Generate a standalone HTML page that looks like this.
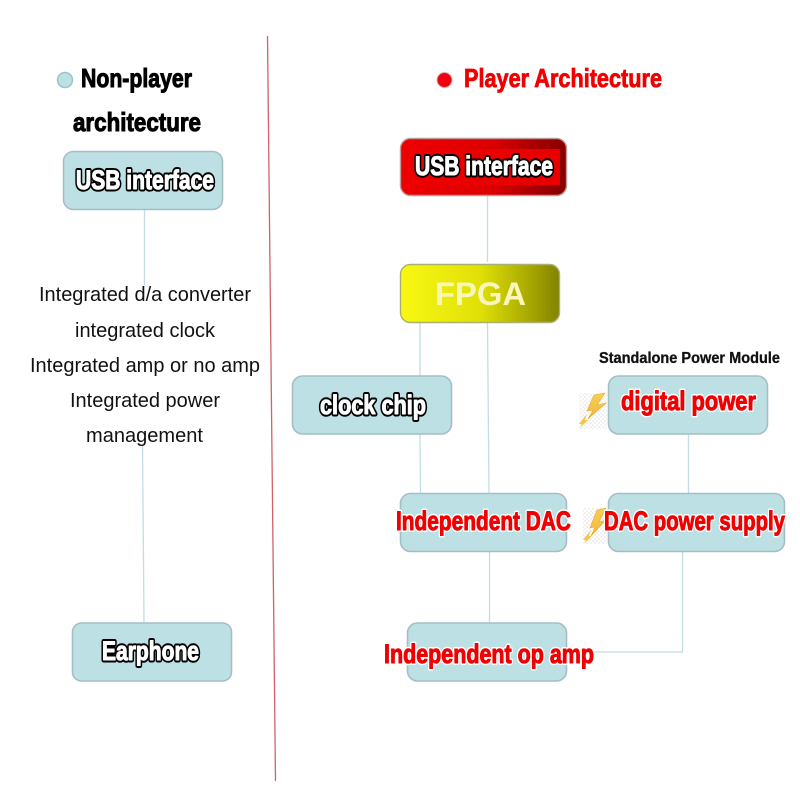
<!DOCTYPE html>
<html>
<head>
<meta charset="utf-8">
<style>
html,body{margin:0;padding:0;background:#fff;width:800px;height:800px;overflow:hidden}
svg{display:block}
text{font-family:"Liberation Sans",sans-serif}
.h{font-weight:bold;font-size:26px}
.wo{font-weight:bold;font-size:27px;fill:#000;stroke:#000;stroke-width:5px;stroke-linejoin:round}
.w{font-weight:bold;font-size:27px;fill:#fff;stroke:#fff;stroke-width:1.1px;stroke-linejoin:round}
.ro{font-weight:bold;font-size:27px;fill:#fff;stroke:#fff;stroke-width:4px;stroke-linejoin:round}
.r{font-weight:bold;font-size:27px;fill:#f00000;stroke:#f00000;stroke-width:1px;stroke-linejoin:round}
.b{font-size:20.5px;fill:#111}
.box{fill:#bde0e5;stroke:#a4bfc3;stroke-width:1.6}
.ln{stroke:#c4dde0;stroke-width:1.3;fill:none}
</style>
</head>
<body>
<svg width="800" height="800" viewBox="0 0 800 800" xmlns="http://www.w3.org/2000/svg">
<defs>
<linearGradient id="red" x1="0" y1="0" x2="1" y2="0">
<stop offset="0" stop-color="#ee0000"/><stop offset=".55" stop-color="#dc0000"/><stop offset=".85" stop-color="#a00000"/><stop offset="1" stop-color="#860000"/>
</linearGradient>
<linearGradient id="redin" x1="0" y1="0" x2="1" y2="0">
<stop offset="0" stop-color="#ec0000"/><stop offset="1" stop-color="#e80000"/>
</linearGradient>
<linearGradient id="yel" x1="0" y1="0" x2="1" y2="0">
<stop offset="0" stop-color="#f8f812"/><stop offset=".5" stop-color="#e0e008"/><stop offset=".8" stop-color="#aaaa00"/><stop offset="1" stop-color="#828200"/>
</linearGradient>
<pattern id="chk" width="4" height="4" patternUnits="userSpaceOnUse">
<rect width="2" height="2" fill="#f1f1f1"/><rect x="2" y="2" width="2" height="2" fill="#f1f1f1"/>
</pattern>
<linearGradient id="bolt" x1="0" y1="0" x2="0" y2="1">
<stop offset="0" stop-color="#f7cf55"/><stop offset="1" stop-color="#f2b83a"/>
</linearGradient>
</defs>

<!-- divider -->
<line x1="267.500" y1="36" x2="275.500" y2="781" stroke="#d0626a" stroke-width="1.300"/>

<!-- connectors -->
<path class="ln" d="M144.500 210V285"/>
<path class="ln" d="M142.500 445L144 623"/>
<path class="ln" d="M487.500 196V262"/>
<path class="ln" d="M420 323V376"/>
<path class="ln" d="M420 434L420.500 493"/>
<path class="ln" d="M487.500 323L489 493"/>
<path class="ln" d="M489.500 552V623"/>
<path class="ln" d="M688.500 434V493"/>
<path class="ln" d="M682.500 552V652H567"/>

<!-- legend -->
<circle cx="65" cy="80" r="7.500" fill="#bde0e5" stroke="#9cc4c8" stroke-width="1.500"/>
<circle cx="444.500" cy="80" r="7.500" fill="#f00010" stroke="#e0b0b0" stroke-width="1"/>
<text class="h" x="81" y="87" textLength="111" lengthAdjust="spacingAndGlyphs" stroke="#000" stroke-width="1">Non-player</text>
<text class="h" x="73" y="131" textLength="128" lengthAdjust="spacingAndGlyphs" stroke="#000" stroke-width="1">architecture</text>
<text class="h" x="464" y="87" textLength="198" lengthAdjust="spacingAndGlyphs" fill="#f00000" stroke="#f00000" stroke-width=".8">Player Architecture</text>

<!-- boxes -->
<rect class="box" x="63.500" y="151.500" width="159" height="58" rx="10"/>
<rect class="box" x="72.500" y="623" width="159" height="58" rx="9"/>
<rect x="400.500" y="138.500" width="166" height="57" rx="10" fill="url(#red)" stroke="#c09a9a" stroke-width="1.400"/>
<rect x="402" y="149" width="158" height="36" fill="url(#redin)"/>
<rect x="400.500" y="264.500" width="159" height="58" rx="10" fill="url(#yel)" stroke="#a9b070" stroke-width="1.400"/>
<rect class="box" x="292.500" y="376" width="159" height="58" rx="10"/>
<rect class="box" x="608.500" y="376" width="159" height="58" rx="10"/>
<rect class="box" x="400.500" y="493.500" width="166" height="58" rx="10"/>
<rect class="box" x="608.500" y="493.500" width="176" height="58" rx="10"/>
<rect class="box" x="407.500" y="623" width="159" height="58" rx="10"/>

<!-- bolts -->
<rect x="579" y="393" width="28" height="36" fill="url(#chk)"/>
<polygon points="605,393 594,395 587,411 593,410 588,419 606,403 597,405" fill="url(#bolt)" stroke="#e8a82e" stroke-width=".6"/>
<polygon points="587,414 579,424 582,424 580,428 588,420 585,420" fill="#f2c54e"/>
<rect x="583" y="508" width="24" height="36" fill="url(#chk)"/>
<polygon points="606,508 597,510 590,528 595,527 591,536 606,520 599,522" fill="url(#bolt)" stroke="#e8a82e" stroke-width=".6"/>
<polygon points="591,530 583,540 586,540 584,544 592,536 589,536" fill="#f2c54e"/>

<!-- box labels -->
<text class="wo" x="76" y="189" textLength="138" lengthAdjust="spacingAndGlyphs">USB interface</text>
<text class="w" x="76" y="189" textLength="138" lengthAdjust="spacingAndGlyphs">USB interface</text>
<text class="wo" x="102" y="660" textLength="97" lengthAdjust="spacingAndGlyphs">Earphone</text>
<text class="w" x="102" y="660" textLength="97" lengthAdjust="spacingAndGlyphs">Earphone</text>
<text class="wo" x="415" y="175" textLength="138" lengthAdjust="spacingAndGlyphs">USB interface</text>
<text class="w" x="415" y="175" textLength="138" lengthAdjust="spacingAndGlyphs">USB interface</text>
<text x="435" y="305" font-size="32" font-weight="bold" fill="#f7f7bc" textLength="91" lengthAdjust="spacingAndGlyphs">FPGA</text>
<text class="wo" x="320" y="414" textLength="106" lengthAdjust="spacingAndGlyphs">clock chip</text>
<text class="w" x="320" y="414" textLength="106" lengthAdjust="spacingAndGlyphs">clock chip</text>
<text class="ro" x="621" y="410" textLength="135" lengthAdjust="spacingAndGlyphs">digital power</text>
<text class="r" x="621" y="410" textLength="135" lengthAdjust="spacingAndGlyphs">digital power</text>
<text class="ro" x="396" y="530" textLength="175" lengthAdjust="spacingAndGlyphs">Independent DAC</text>
<text class="r" x="396" y="530" textLength="175" lengthAdjust="spacingAndGlyphs">Independent DAC</text>
<text class="ro" x="604" y="530" textLength="181" lengthAdjust="spacingAndGlyphs">DAC power supply</text>
<text class="r" x="604" y="530" textLength="181" lengthAdjust="spacingAndGlyphs">DAC power supply</text>
<text class="ro" x="384" y="663" textLength="210" lengthAdjust="spacingAndGlyphs">Independent op amp</text>
<text class="r" x="384" y="663" textLength="210" lengthAdjust="spacingAndGlyphs">Independent op amp</text>
<text x="599" y="363" font-size="16" font-weight="bold" fill="#111" stroke="#111" stroke-width=".3" textLength="181" lengthAdjust="spacingAndGlyphs">Standalone Power Module</text>

<!-- body text -->
<text class="b" x="39" y="301" textLength="212" lengthAdjust="spacingAndGlyphs">Integrated d/a converter</text>
<text class="b" x="75" y="337" textLength="140" lengthAdjust="spacingAndGlyphs">integrated clock</text>
<text class="b" x="30" y="372" textLength="230" lengthAdjust="spacingAndGlyphs">Integrated amp or no amp</text>
<text class="b" x="70" y="407" textLength="150" lengthAdjust="spacingAndGlyphs">Integrated power</text>
<text class="b" x="86" y="442" textLength="117" lengthAdjust="spacingAndGlyphs">management</text>
</svg>
</body>
</html>
